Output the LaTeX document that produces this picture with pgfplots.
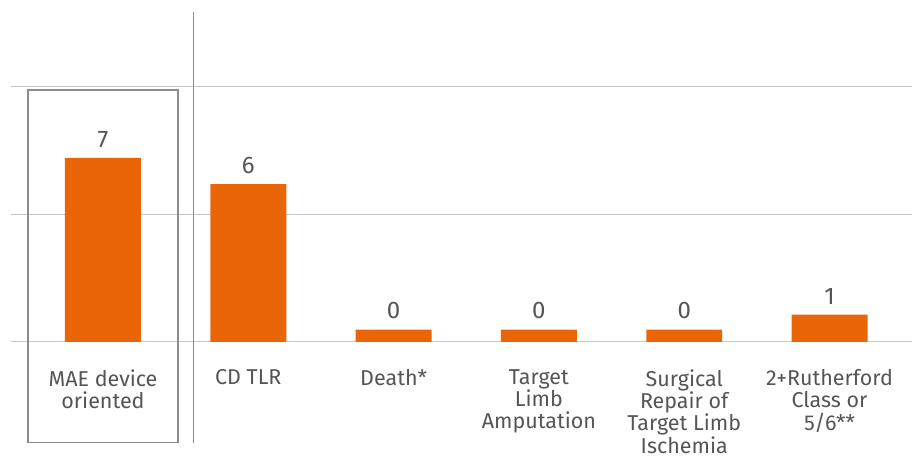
\documentclass[border=0pt]{standalone}
\usepackage{pgfplots}
\pgfplotsset{compat=1.18}
\usepackage{fontspec}
\setmainfont{Fira Sans}
\definecolor{barorange}{HTML}{EA6508}
\definecolor{txtgray}{HTML}{555555}
\definecolor{gridgray}{HTML}{C8C8C8}
\definecolor{linegray}{HTML}{8C8C8C}
\begin{document}
\begin{tikzpicture}[x=1pt,y=1pt]
\path (0,0) rectangle (912,460);
\begin{axis}[
  at={(11pt,118pt)}, anchor=south west,
  scale only axis, width=901pt, height=330pt,
  xmin=-0.633, xmax=5.564, ymin=0, ymax=12.55,
  axis line style={draw=none},
  tick style={draw=none},
  ybar, bar width=76pt, bar shift=0pt,
  ytick={0,4.86,9.7}, yticklabels={},
  ymajorgrids, grid style={gridgray, line width=1pt},
  xtick={0,1,2,3,4,5},
  xticklabels={{MAE device\\oriented},{CD TLR},{Death*},{Target\\Limb\\Amputation},{Surgical\\Repair of\\Target Limb\\Ischemia},{2+Rutherford\\Class or\\5/6**}},
  xticklabel style={align=center, font=\fontsize{21.5}{22.3}\selectfont, text=txtgray, anchor=north, inner sep=0pt, yshift=-27.5pt},
  major tick length=0pt,
  nodes near coords,
  point meta=explicit symbolic,
  every node near coord/.append style={font=\fontsize{24}{26}\selectfont, text=txtgray, anchor=south, yshift=7pt},
  clip=false,
]
\addplot[fill=barorange, draw=none] coordinates {(0,7) [7] (1,6) [6] (2,0.46) [0] (3,0.46) [0] (4,0.46) [0] (5,1.03) [1]};
\end{axis}
\draw[linegray, line width=1.2pt] (193.5,17) -- (193.5,448);
\draw[linegray, line width=1.2pt] (28,17) rectangle (178,370);
\end{tikzpicture}
\end{document}
